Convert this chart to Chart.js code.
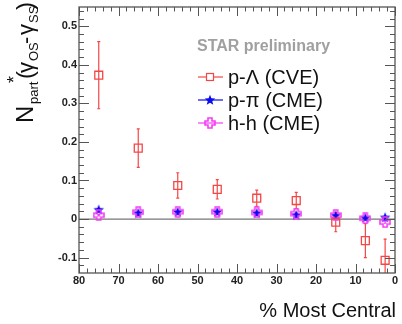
<!DOCTYPE html>
<html>
<head>
<meta charset="utf-8">
<script src="https://cdn.jsdelivr.net/npm/chart.js@4.4.0/dist/chart.umd.min.js"></script>
<style>
  html, body { margin: 0; padding: 0; background: #fff; }
  #plot { display: block; }
</style>
</head>
<body>
<canvas id="plot" width="402" height="324"></canvas>
<script>
// centrality bins (% most central)
const centrality = [75, 65, 55, 45, 35, 25, 15, 7.5, 2.5];

// p-Lambda (CVE)
const pLambda    = [0.373, 0.184, 0.087, 0.077, 0.054, 0.048, -0.008, -0.056, -0.107];
const pLambdaErr = [0.087, 0.050, 0.033, 0.025, 0.021, 0.021, 0.025, 0.044, 0.055];

// p-pi (CME)
const pPi    = [0.024, 0.015, 0.018, 0.018, 0.015, 0.010, 0.009, 0.003, 0.004];
const pPiErr = [0.003, 0.002, 0.002, 0.002, 0.002, 0.002, 0.002, 0.002, 0.003];

// h-h (CME)
const hh    = [0.010, 0.018, 0.019, 0.019, 0.017, 0.014, 0.010, 0.002, -0.008];
const hhErr = [0.002, 0.002, 0.002, 0.002, 0.002, 0.002, 0.002, 0.002, 0.003];

const xTicks = [80, 70, 60, 50, 40, 30, 20, 10, 0];
const yTicks = [-0.1, 0, 0.1, 0.2, 0.3, 0.4, 0.5];
const yTickLabels = ['-0.1', '0', '0.1', '0.2', '0.3', '0.4', '0.5'];

const RED = 'rgb(245,70,70)';
const BLUE = 'rgb(10,10,240)';
const MAGENTA = 'rgb(245,60,245)';
const FONT = '"Liberation Sans", Arial, sans-serif';

function makeStar(color) {
    const c = document.createElement('canvas');
    c.width = 12; c.height = 12;
    const g = c.getContext('2d');
    g.fillStyle = color;
    g.beginPath();
    for (let i = 0; i < 10; i++) {
        const r = i % 2 === 0 ? 5.5 : 2.4;
        const a = -Math.PI / 2 + i * Math.PI / 5;
        const px = 6 + r * Math.cos(a), py = 6.3 + r * Math.sin(a);
        if (i === 0) g.moveTo(px, py); else g.lineTo(px, py);
    }
    g.closePath();
    g.fill();
    return c;
}

function makeOpenCross(color) {
    const c = document.createElement('canvas');
    c.width = 12; c.height = 12;
    const g = c.getContext('2d');
    g.strokeStyle = color;
    g.lineWidth = 1.6;
    const a = 2, b = 5;
    g.beginPath();
    g.moveTo(6 - a, 6 - b); g.lineTo(6 + a, 6 - b); g.lineTo(6 + a, 6 - a);
    g.lineTo(6 + b, 6 - a); g.lineTo(6 + b, 6 + a); g.lineTo(6 + a, 6 + a);
    g.lineTo(6 + a, 6 + b); g.lineTo(6 - a, 6 + b); g.lineTo(6 - a, 6 + a);
    g.lineTo(6 - b, 6 + a); g.lineTo(6 - b, 6 - a); g.lineTo(6 - a, 6 - a);
    g.closePath();
    g.stroke();
    return c;
}

const starImg = makeStar(BLUE);
const crossImg = makeOpenCross(MAGENTA);

function toPoints(ys, errs) {
    return centrality.map((x, i) => ({ x: x, y: ys[i], err: errs[i] }));
}

// error bars, drawn through the scales
const errorBars = {
    id: 'errorBars',
    beforeDatasetsDraw(chart) {
        const { ctx, chartArea, scales: { x, y } } = chart;
        ctx.save();
        ctx.beginPath();
        ctx.rect(chartArea.left, chartArea.top, chartArea.right - chartArea.left, chartArea.bottom - chartArea.top);
        ctx.clip();
        chart.data.datasets.forEach(ds => {
            ctx.strokeStyle = ds.errColor;
            ctx.lineWidth = 1.2;
            ds.data.forEach(p => {
                const px = x.getPixelForValue(p.x);
                const y1 = y.getPixelForValue(p.y + p.err);
                const y2 = y.getPixelForValue(p.y - p.err);
                ctx.beginPath();
                ctx.moveTo(px, y1); ctx.lineTo(px, y2);
                ctx.moveTo(px - 1.5, y1); ctx.lineTo(px + 1.5, y1);
                ctx.moveTo(px - 1.5, y2); ctx.lineTo(px + 1.5, y2);
                ctx.stroke();
            });
        });
        ctx.restore();
    }
};

// ROOT style frame, ticks, zero line, labels
const frame = {
    id: 'frame',
    beforeDatasetsDraw(chart) {
        const { ctx, chartArea: a, scales: { y } } = chart;
        ctx.save();
        ctx.strokeStyle = '#777';
        ctx.lineWidth = 1.3;
        const y0 = y.getPixelForValue(0);
        ctx.beginPath(); ctx.moveTo(a.left, y0); ctx.lineTo(a.right, y0); ctx.stroke();
        ctx.restore();
    },
    afterDraw(chart) {
        const { ctx, chartArea: a, scales: { x, y } } = chart;
        ctx.save();
        ctx.strokeStyle = '#555';
        ctx.lineWidth = 1.3;
        ctx.strokeRect(a.left, a.top, a.right - a.left, a.bottom - a.top);

        ctx.lineWidth = 1;
        ctx.beginPath();
        for (let v = 0; v <= 80; v += 2) {
            const px = Math.round(x.getPixelForValue(v)) + 0.5;
            const len = v % 10 === 0 ? 9 : 4.5;
            ctx.moveTo(px, a.bottom); ctx.lineTo(px, a.bottom - len);
            ctx.moveTo(px, a.top); ctx.lineTo(px, a.top + len);
        }
        for (let k = -7; k <= 27; k++) {
            const v = k * 0.02;
            const py = Math.round(y.getPixelForValue(v)) + 0.5;
            if (py < a.top || py > a.bottom) continue;
            const len = k % 5 === 0 ? 10 : 5;
            ctx.moveTo(a.left, py); ctx.lineTo(a.left + len, py);
            ctx.moveTo(a.right, py); ctx.lineTo(a.right - len, py);
        }
        ctx.stroke();

        ctx.fillStyle = '#222';
        ctx.font = 'bold 11px ' + FONT;
        ctx.textAlign = 'center';
        ctx.textBaseline = 'middle';
        xTicks.forEach(v => ctx.fillText(String(v), x.getPixelForValue(v), a.bottom + 8));
        ctx.textAlign = 'right';
        yTicks.forEach((v, i) => ctx.fillText(yTickLabels[i], a.left - 2, y.getPixelForValue(v)));

        // x title
        ctx.fillStyle = '#111';
        ctx.font = '20px ' + FONT;
        ctx.textAlign = 'right';
        ctx.textBaseline = 'alphabetic';
        ctx.fillText('% Most Central', a.right + 1, 317);

        // y title, rotated, with sub/superscripts: [text, size, offset along, baseline shift]
        ctx.save();
        ctx.translate(33, 123);
        ctx.rotate(-Math.PI / 2);
        ctx.textAlign = 'left';
        const parts = [
            ['N', 24, 0, 0], ['part', 13, 19, 5], ['*', 18, 40, -13],
            ['(', 24, 44, 0], ['\u03b3', 22, 50, 0], ['OS', 13, 62, 5],
            ['-', 22, 79, 0], ['\u03b3', 22, 88, 0], ['SS', 13, 100, 5], [')', 24, 113, 0]
        ];
        parts.forEach(([t, s, off, dy]) => {
            ctx.font = s + 'px ' + FONT;
            ctx.fillText(t, off, dy);
        });
        ctx.restore();

        // legend
        ctx.fillStyle = '#a0a0a0';
        ctx.font = 'bold 16px ' + FONT;
        ctx.textAlign = 'left';
        ctx.textBaseline = 'middle';
        ctx.fillText('STAR preliminary', 197, 47);

        const entries = [
            ['p-\u039b (CVE)', RED, 'square', 77],
            ['p-\u03c0 (CME)', BLUE, 'star', 100],
            ['h-h (CME)', MAGENTA, 'cross', 123]
        ];
        entries.forEach(([label, col, mk, ly]) => {
            ctx.strokeStyle = col;
            ctx.lineWidth = 1.2;
            ctx.beginPath(); ctx.moveTo(198, ly); ctx.lineTo(223, ly); ctx.stroke();
            if (mk === 'square') {
                ctx.fillStyle = '#fff';
                ctx.fillRect(206.5, ly - 3.5, 7, 7);
                ctx.strokeRect(206.5, ly - 3.5, 7, 7);
            } else if (mk === 'star') {
                ctx.drawImage(starImg, 204, ly - 6);
            } else {
                ctx.drawImage(crossImg, 204, ly - 6);
            }
            ctx.fillStyle = '#111';
            ctx.font = '20px ' + FONT;
            ctx.fillText(label, 228, ly + 1);
        });
        ctx.restore();
    }
};

new Chart(document.getElementById('plot'), {
    type: 'scatter',
    data: {
        datasets: [
            {
                label: 'p-\u039b (CVE)',
                data: toPoints(pLambda, pLambdaErr),
                errColor: RED,
                pointStyle: 'rect',
                pointRadius: 5.6,
                pointBorderWidth: 1.3,
                borderColor: RED,
                backgroundColor: 'rgba(0,0,0,0)'
            },
            {
                label: 'h-h (CME)',
                data: toPoints(hh, hhErr),
                errColor: MAGENTA,
                pointStyle: crossImg,
                pointRadius: 6,
                borderColor: MAGENTA,
                backgroundColor: MAGENTA
            },
            {
                label: 'p-\u03c0 (CME)',
                data: toPoints(pPi, pPiErr),
                errColor: BLUE,
                pointStyle: starImg,
                pointRadius: 6,
                borderColor: BLUE,
                backgroundColor: BLUE
            }
        ]
    },
    options: {
        responsive: false,
        animation: false,
        layout: { padding: { left: 79, right: 3, top: 0, bottom: 51 } },
        plugins: { legend: { display: false }, tooltip: { enabled: false } },
        scales: {
            x: { type: 'linear', min: 0, max: 80, reverse: true, display: false },
            y: { type: 'linear', min: -0.14, max: 0.55, display: false }
        }
    },
    plugins: [frame, errorBars]
});
</script>
</body>
</html>
